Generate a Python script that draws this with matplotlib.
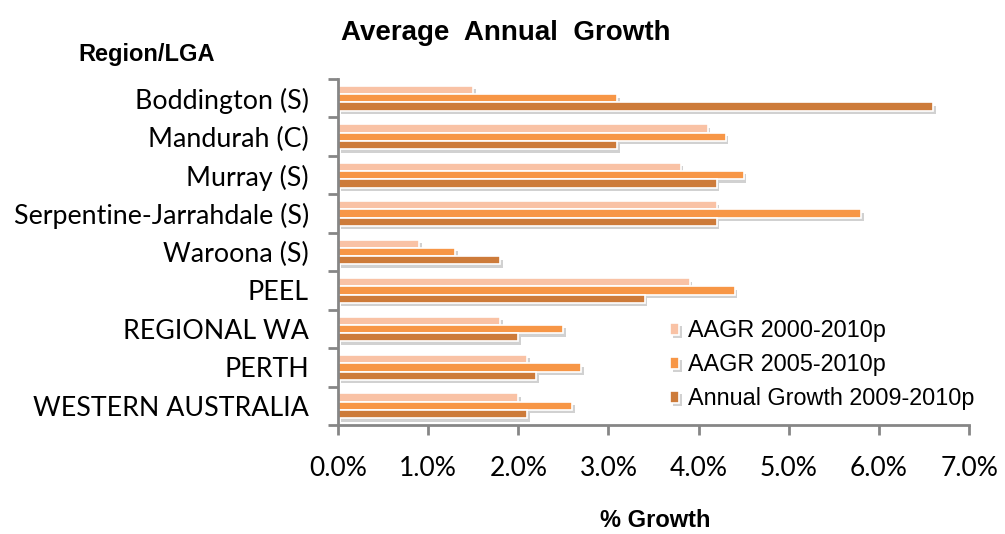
import matplotlib
matplotlib.use("Agg")
import matplotlib.pyplot as plt
import matplotlib.patheffects as pe
import numpy as np

# %% Data

regions = ["Boddington (S)", "Mandurah (C)", "Murray (S)", "Serpentine-Jarrahdale (S)",
           "Waroona (S)", "PEEL", "REGIONAL WA", "PERTH", "WESTERN AUSTRALIA"]
aagr_2000_2010 = [1.5, 4.1, 3.8, 4.2, 0.9, 3.9, 1.8, 2.1, 2.0]
aagr_2005_2010 = [3.1, 4.3, 4.5, 5.8, 1.3, 4.4, 2.5, 2.7, 2.6]
growth_2009_2010 = [6.6, 3.1, 4.2, 4.2, 1.8, 3.4, 2.0, 2.2, 2.1]

series_names = ["AAGR 2000-2010p", "AAGR 2005-2010p", "Annual Growth 2009-2010p"]
colors = ["#F9C2A5", "#F79646", "#CD7B3A"]

# %% Plot

fig = plt.figure(figsize=(10.05, 5.34), dpi=100)
ax = fig.add_axes([0.3363, 0.204, 0.628, 0.648])

y = np.arange(len(regions))
bar_h = 0.215
shadow = [pe.SimplePatchShadow(offset=(2, -2.5), shadow_rgbFace="#999999", alpha=0.45), pe.Normal()]

for i, (vals, name, col) in enumerate(zip([aagr_2000_2010, aagr_2005_2010, growth_2009_2010],
                                           series_names, colors)):
    bars = ax.barh(y + (i - 1) * bar_h, vals, height=bar_h, color=col,
                   edgecolor="white", linewidth=1.2, label=name)
    for b in bars:
        b.set_path_effects(shadow)

ax.set_ylim(len(regions) - 0.5, -0.5)
ax.set_xlim(0, 7)

# category labels sit between the boundary ticks
ax.set_yticks(np.arange(len(regions) + 1) - 0.5)
ax.set_yticklabels([])
ax.set_yticks(y, minor=True)
ax.set_yticklabels(regions, minor=True, fontsize=19.3, family="Lato")
ax.tick_params(axis="y", which="minor", length=0, pad=21)
ax.tick_params(axis="y", which="major", length=7, width=2, color="#868686", direction="out")

ax.set_xticks(np.arange(0, 8, 1))
ax.set_xticklabels([f"{v:.1f}%" for v in np.arange(0, 8, 1)], fontsize=19, family="Lato")
ax.tick_params(axis="x", length=7, width=2, color="#868686", pad=15)

for s in ["top", "right"]:
    ax.spines[s].set_visible(False)
for s in ["left", "bottom"]:
    ax.spines[s].set_color("#868686")
    ax.spines[s].set_linewidth(2)

fig.text(0.503, 0.938, "Average  Annual  Growth", ha="center", va="center",
         fontsize=20, fontweight="bold", family="Liberation Sans")
fig.text(0.146, 0.898, "Region/LGA", ha="center", va="center",
         fontsize=17, fontweight="bold", family="Liberation Sans")
fig.text(0.652, 0.004, "% Growth", ha="center", va="bottom",
         fontsize=17, fontweight="bold", family="Liberation Sans")

leg = ax.legend(loc="upper left", bbox_to_anchor=(0.526, 0.306), frameon=False,
                prop={"family": "Liberation Sans", "size": 16.8}, handlelength=0.39,
                handleheight=0.39, handletextpad=0.4, labelspacing=0.47,
                borderpad=0, borderaxespad=0)

fig.savefig("out.png", dpi=100)
